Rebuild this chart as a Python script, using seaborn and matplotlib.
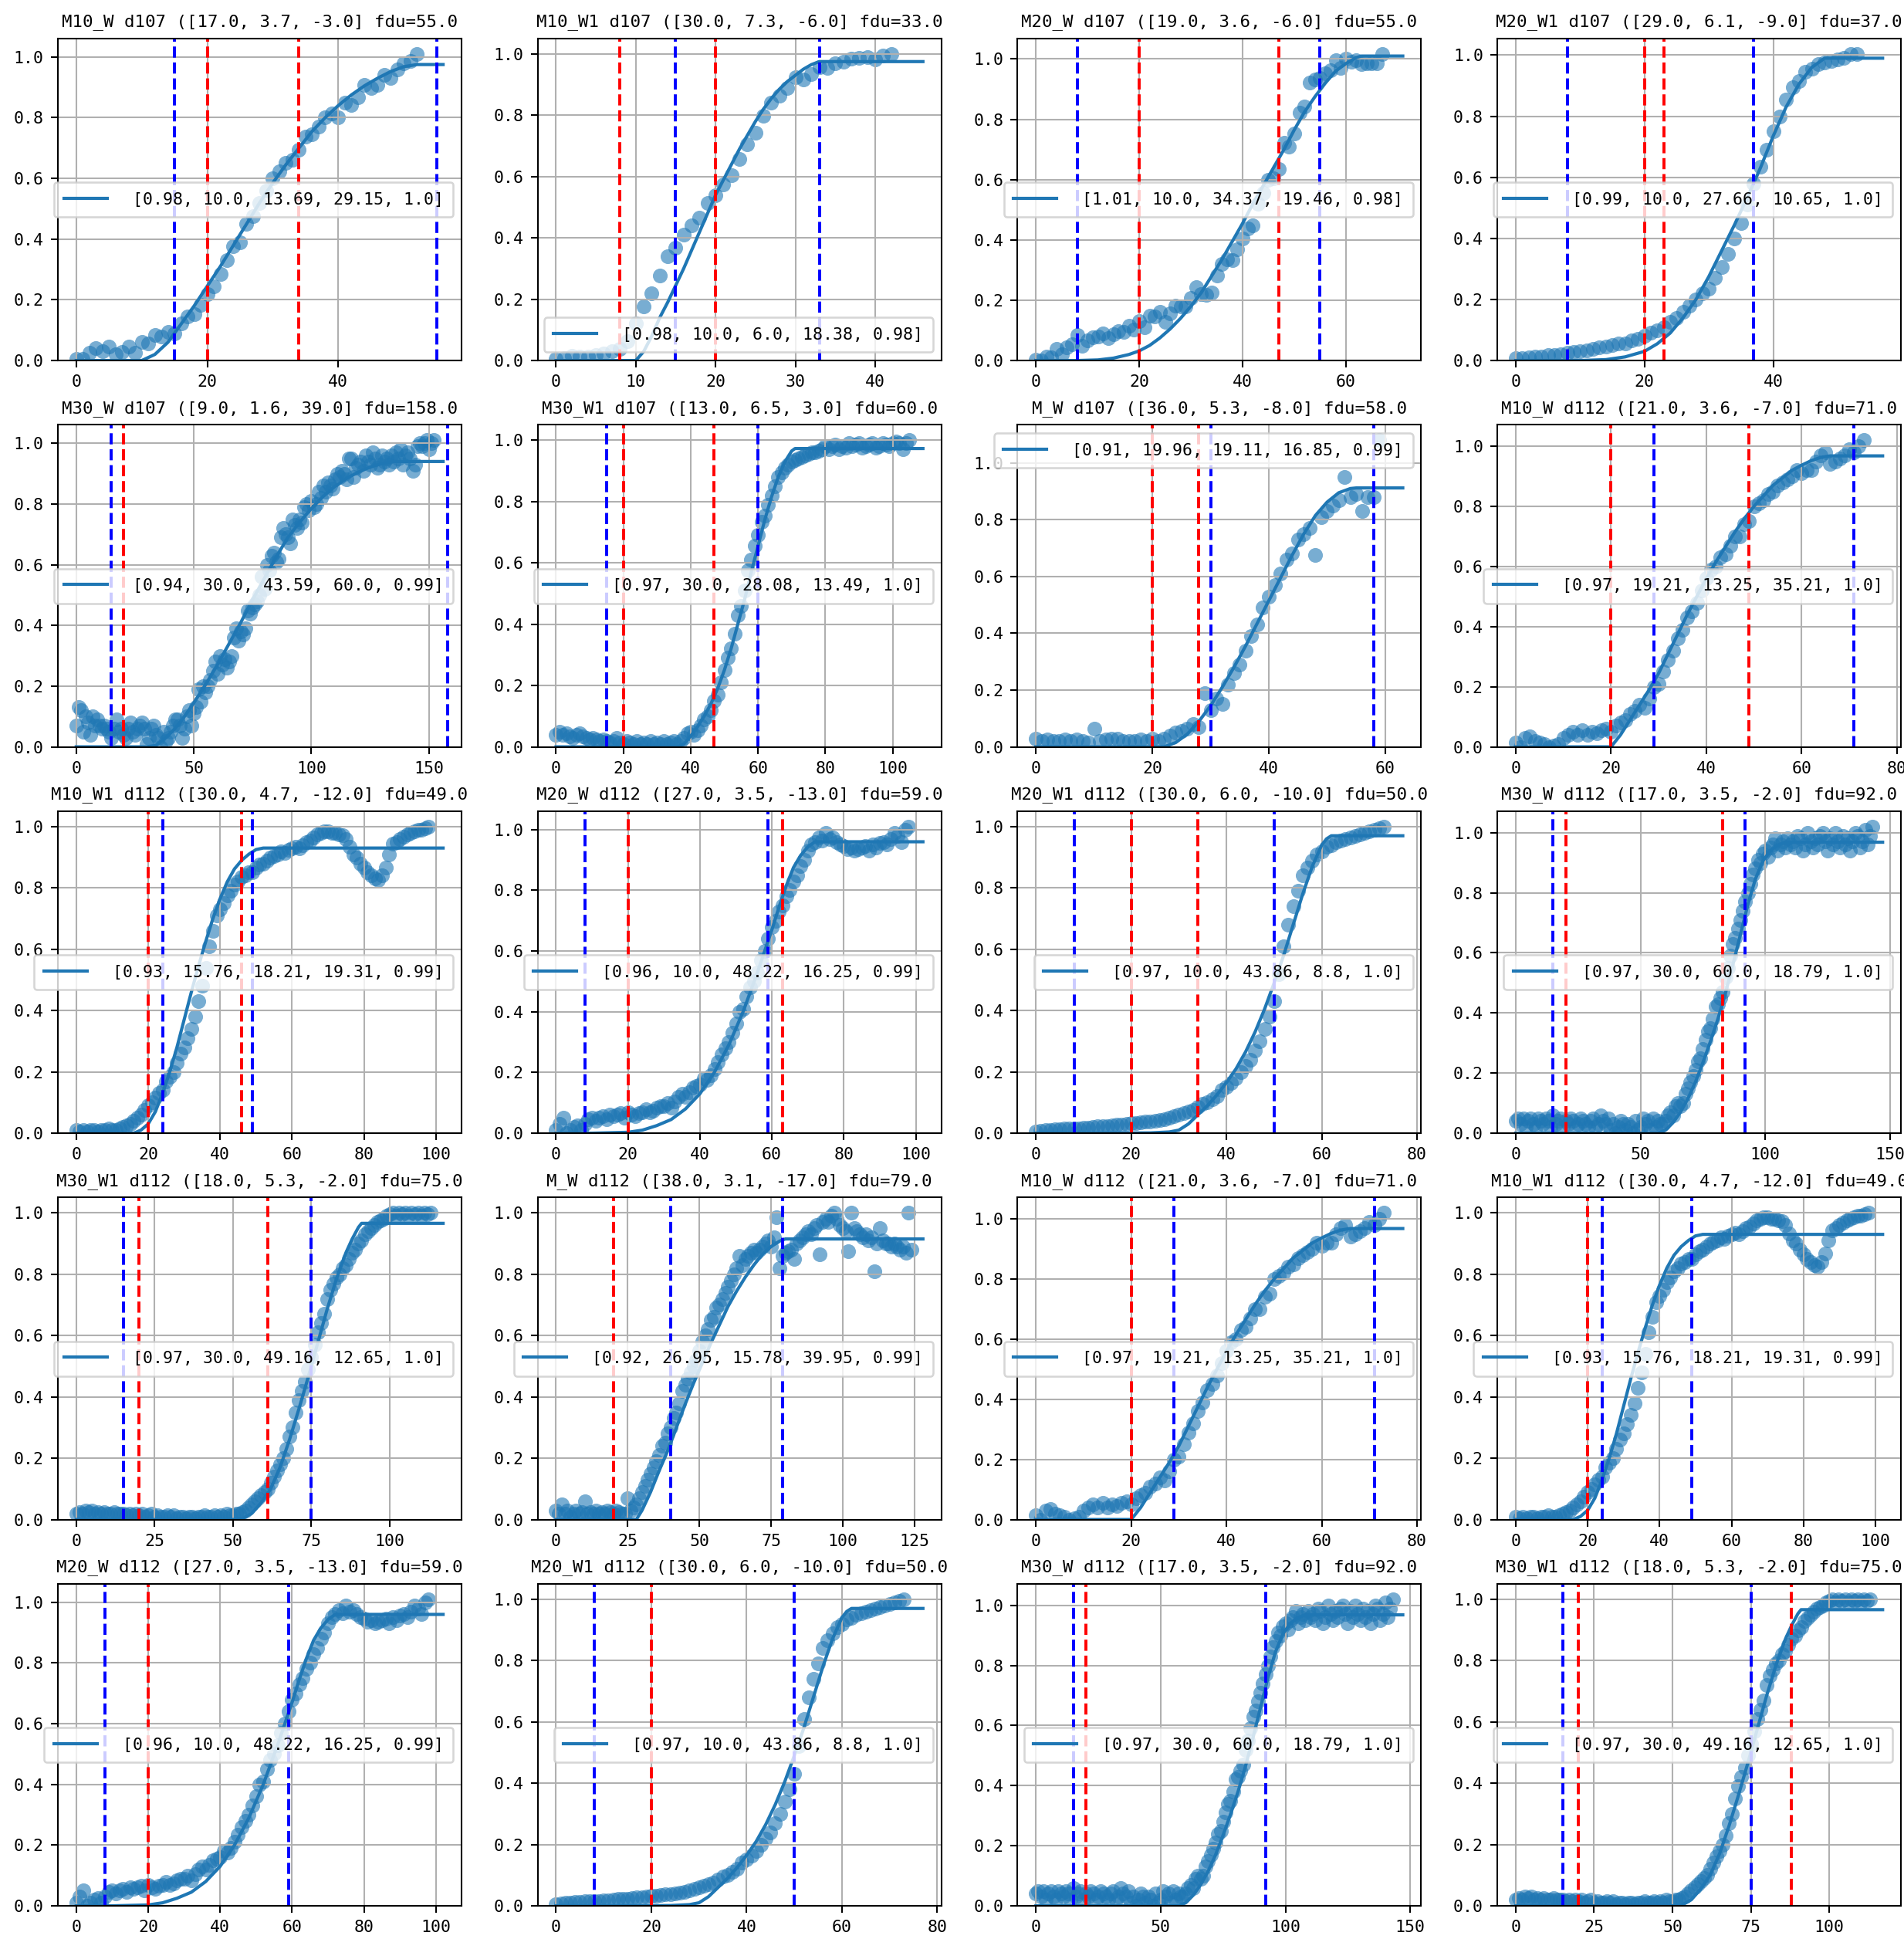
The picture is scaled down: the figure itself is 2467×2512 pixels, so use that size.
import numpy as np
import matplotlib
matplotlib.use('Agg')
import matplotlib.pyplot as plt
from matplotlib import font_manager
from matplotlib.ticker import MaxNLocator
import seaborn as sns

# ---- data (y per day index, fitted curve knots) ----
# M10_W d107
A_y = [0.005, 0.005, 0.025, 0.04, 0.03, 0.045, 0.02, 0.027, 0.047, 0.025,
       0.06, 0.055, 0.085, 0.08, 0.093, 0.09, 0.123, 0.144, 0.152, 0.182,
       0.22, 0.245, 0.284, 0.33, 0.377, 0.39, 0.45, 0.475, 0.52, 0.56,
       0.60, 0.623, 0.652, 0.66, 0.695, 0.737, 0.745, 0.77, 0.80, 0.815,
       0.80, 0.85, 0.843, 0.868, 0.907, 0.898, 0.907, 0.94, 0.93, 0.96,
       0.98, 0.987, 1.01]
A_fit_x = [0, 10, 12, 14, 16, 18, 20, 22, 24, 26, 28, 30, 32, 34, 36, 38, 40, 42, 44, 46, 48, 50, 52, 56]
A_fit_y = [0, 0, 0.02, 0.06, 0.12, 0.18, 0.245, 0.31, 0.38, 0.45, 0.52, 0.585, 0.645, 0.70,
           0.755, 0.80, 0.84, 0.875, 0.905, 0.93, 0.952, 0.968, 0.975, 0.975]
A_label = '[0.98, 10.0, 13.69, 29.15, 1.0]'

# M10_W1 d107
B_y = [0.004, 0.008, 0.015, 0.013, 0.013, 0.017, 0.024, 0.03, 0.038, 0.063,
       0.12, 0.176, 0.218, 0.277, 0.34, 0.368, 0.41, 0.44, 0.466, 0.513,
       0.538, 0.573, 0.605, 0.658, 0.706, 0.744, 0.797, 0.84, 0.864, 0.89,
       0.923, 0.916, 0.933, 0.956, 0.954, 0.97, 0.975, 0.985, 0.987, 0.99,
       0.983, 0.995, 1.0]
B_fit_x = [0, 10, 11, 12, 13, 14, 15, 16, 17, 18, 19, 20, 21, 22, 23, 24, 25, 26, 27, 28, 29, 30, 31, 32, 33, 46]
B_fit_y = [0, 0, 0.03, 0.08, 0.14, 0.19, 0.245, 0.30, 0.36, 0.42, 0.48, 0.54, 0.59, 0.64, 0.69,
           0.735, 0.78, 0.82, 0.855, 0.885, 0.91, 0.93, 0.95, 0.965, 0.975, 0.975]
B_label = '[0.98, 10.0, 6.0, 18.38, 0.98]'

# M20_W d107
C_y = [0.004, 0.0, 0.013, 0.01, 0.038, 0.02, 0.043, 0.055, 0.085, 0.05,
       0.068, 0.077, 0.08, 0.09, 0.075, 0.087, 0.098, 0.094, 0.115, 0.102,
       0.132, 0.11, 0.149, 0.146, 0.162, 0.128, 0.157, 0.183, 0.179, 0.179,
       0.208, 0.243, 0.221, 0.217, 0.225, 0.281, 0.319, 0.336, 0.332, 0.37,
       0.404, 0.438, 0.447, 0.519, 0.557, 0.6, 0.604, 0.634, 0.723, 0.71,
       0.753, 0.821, 0.843, 0.923, 0.932, 0.936, 0.953, 0.962, 0.996, 0.97,
       1.0, 0.991, 0.996, 0.983, 0.987, 0.987, 0.987, 1.017]
C_fit_x = [0, 8, 12, 15, 18, 20, 22, 24, 26, 28, 30, 32, 34, 36, 38, 40, 42, 44, 46, 48,
           50, 52, 54, 56, 58, 60, 62, 63, 71]
C_fit_y = [0, 0, 0.002, 0.008, 0.02, 0.032, 0.05, 0.075, 0.105, 0.14, 0.18, 0.225, 0.28, 0.335,
           0.395, 0.455, 0.52, 0.58, 0.64, 0.70, 0.765, 0.825, 0.875, 0.92, 0.96, 0.985, 1.005,
           1.01, 1.01]
C_label = '[1.01, 10.0, 34.37, 19.46, 0.98]'

# M20_W1 d107
D_y = [0.008, 0.007, 0.01, 0.013, 0.013, 0.017, 0.017, 0.021, 0.025, 0.027,
       0.03, 0.034, 0.038, 0.042, 0.046, 0.05, 0.057, 0.055, 0.067, 0.071,
       0.08, 0.09, 0.1, 0.11, 0.126, 0.14, 0.16, 0.18, 0.2, 0.22,
       0.235, 0.27, 0.305, 0.35, 0.40, 0.45, 0.51, 0.58, 0.635, 0.69,
       0.75, 0.80, 0.855, 0.895, 0.915, 0.945, 0.955, 0.97, 0.975, 0.98,
       0.987, 0.992, 1.004, 1.004]
D_fit_x = [0, 10, 14, 17, 20, 22, 24, 26, 28, 30, 32, 34, 36, 38, 40, 42, 44, 46, 48, 57]
D_fit_y = [0, 0, 0.003, 0.012, 0.03, 0.055, 0.09, 0.14, 0.2, 0.275, 0.36, 0.445, 0.535, 0.63,
           0.735, 0.83, 0.905, 0.96, 0.99, 0.99]
D_label = '[0.99, 10.0, 27.66, 10.65, 1.0]'

# M30_W d107
E_y = [0.07, 0.13, 0.12, 0.05, 0.10, 0.08, 0.04, 0.10, 0.07, 0.09, 0.07, 0.06, 0.07, 0.06, 0.05,
       0.03, 0.06, 0.09, 0.05, 0.06, 0.04, 0.03, 0.06, 0.08, 0.05, 0.04, 0.06, 0.07, 0.08, 0.06,
       0.01, 0.03, 0.06, 0.07, 0.04, 0.03, 0.00, 0.05, 0.02, 0.03, 0.05, 0.07, 0.09, 0.09, 0.07,
       0.03, 0.06, 0.10, 0.12, 0.07, 0.11, 0.13, 0.19, 0.15, 0.20, 0.18, 0.20, 0.22, 0.25, 0.28,
       0.24, 0.30, 0.27, 0.29, 0.26, 0.28, 0.30, 0.36, 0.39, 0.35, 0.38, 0.37, 0.39, 0.45, 0.44,
       0.46, 0.47, 0.48, 0.50, 0.56, 0.52, 0.60, 0.58, 0.63, 0.64, 0.61, 0.62, 0.69, 0.72, 0.70,
       0.69, 0.67, 0.75, 0.73, 0.72, 0.75, 0.74, 0.79, 0.80, 0.78, 0.81, 0.79, 0.80, 0.84, 0.82,
       0.86, 0.84, 0.87, 0.86, 0.85, 0.88, 0.90, 0.89, 0.91, 0.90, 0.88, 0.95, 0.95, 0.89, 0.92,
       0.93, 0.94, 0.91, 0.96, 0.94, 0.93, 0.97, 0.95, 0.92, 0.93, 0.96, 0.94, 0.95, 0.93, 0.96,
       0.94, 0.97, 0.95, 0.98, 0.93, 0.96, 0.97, 0.95, 0.91, 0.93, 0.99, 1.00, 0.99, 1.00, 1.01,
       0.98, 1.00, 1.01]
E_fit_x = [0, 30, 34, 38, 42, 46, 50, 55, 60, 65, 70, 75, 80, 85, 90, 95, 100, 105, 110, 115,
           120, 125, 130, 135, 156]
E_fit_y = [0, 0, 0.005, 0.03, 0.06, 0.1, 0.145, 0.205, 0.27, 0.34, 0.41, 0.485, 0.555, 0.625,
           0.69, 0.74, 0.785, 0.825, 0.858, 0.885, 0.905, 0.922, 0.933, 0.94, 0.94]
E_label = '[0.94, 30.0, 43.59, 60.0, 0.99]'

# M30_W1 d107
F_y = [0.04, 0.05, 0.04, 0.045, 0.035, 0.03, 0.04, 0.045, 0.035, 0.03, 0.025, 0.03, 0.025, 0.02, 0.025,
       0.02, 0.015, 0.02, 0.03, 0.015, 0.01, 0.02, 0.015, 0.01, 0.02, 0.01, 0.015, 0.01, 0.02, 0.01,
       0.015, 0.01, 0.02, 0.01, 0.015, 0.02, 0.01, 0.02, 0.03, 0.045, 0.05, 0.04, 0.055, 0.07, 0.09,
       0.10, 0.12, 0.15, 0.17, 0.21, 0.25, 0.29, 0.32, 0.37, 0.43, 0.46, 0.51, 0.575, 0.61, 0.655,
       0.69, 0.735, 0.755, 0.79, 0.82, 0.85, 0.88, 0.895, 0.91, 0.92, 0.93, 0.935, 0.94, 0.945, 0.95,
       0.955, 0.96, 0.96, 0.965, 0.97, 0.98, 0.97, 0.98, 0.985, 0.97, 0.98, 0.975, 0.99, 0.98, 0.985,
       0.99, 0.975, 0.98, 0.985, 0.99, 0.975, 0.98, 0.99, 0.985, 0.98, 0.99, 0.995, 0.99, 0.97, 0.99,
       1.0]
F_fit_x = [0, 36, 38, 40, 42, 44, 46, 48, 50, 52, 54, 56, 58, 60, 62, 64, 66, 68, 70, 71, 109]
F_fit_y = [0, 0, 0.01, 0.035, 0.065, 0.1, 0.14, 0.19, 0.25, 0.32, 0.4, 0.48, 0.57, 0.655, 0.74,
           0.815, 0.88, 0.93, 0.965, 0.973, 0.973]
F_label = '[0.97, 30.0, 28.08, 13.49, 1.0]'

# M_W d107
G_y = [0.03, 0.02, 0.025, 0.02, 0.02, 0.025, 0.02, 0.025, 0.02, 0.015,
       0.065, 0.02, 0.025, 0.03, 0.03, 0.02, 0.02, 0.02, 0.025, 0.02,
       0.03, 0.02, 0.03, 0.04, 0.05, 0.055, 0.065, 0.08, 0.07, 0.19,
       0.13, 0.17, 0.15, 0.22, 0.26, 0.29, 0.34, 0.39, 0.43, 0.49,
       0.53, 0.57, 0.61, 0.66, 0.68, 0.73, 0.75, 0.77, 0.675, 0.81,
       0.83, 0.85, 0.87, 0.95, 0.88, 0.89, 0.83, 0.88, 0.88, 1.08]
G_fit_x = [0, 22, 24, 26, 28, 30, 32, 34, 36, 38, 40, 42, 44, 46, 48, 50, 52, 54, 55, 63]
G_fit_y = [0, 0, 0.015, 0.045, 0.09, 0.145, 0.21, 0.28, 0.355, 0.435, 0.515, 0.595, 0.675, 0.75,
           0.815, 0.862, 0.895, 0.91, 0.912, 0.912]
G_label = '[0.91, 19.96, 19.11, 16.85, 0.99]'

# M10_W d112
H_y = [0.015, 0.0, 0.03, 0.035, 0.02, 0.015, 0.01, 0.0, 0.005, 0.01,
       0.03, 0.04, 0.05, 0.04, 0.055, 0.04, 0.05, 0.045, 0.055, 0.06,
       0.05, 0.07, 0.08, 0.09, 0.11, 0.12, 0.14, 0.13, 0.16, 0.2,
       0.21, 0.25, 0.29, 0.32, 0.36, 0.39, 0.43, 0.45, 0.48, 0.52,
       0.56, 0.59, 0.6, 0.63, 0.64, 0.67, 0.7, 0.7, 0.74, 0.75,
       0.8, 0.81, 0.82, 0.84, 0.85, 0.87, 0.88, 0.89, 0.9, 0.92,
       0.91, 0.92, 0.92, 0.95, 0.97, 0.98, 0.94, 0.95, 0.96, 0.97,
       0.99, 0.98, 1.0, 1.02]
H_fit_x = [0, 20, 22, 24, 26, 28, 30, 32, 34, 36, 38, 40, 42, 44, 46, 48, 50, 52, 54, 56, 58,
           60, 62, 64, 66, 77]
H_fit_y = [0, 0, 0.04, 0.09, 0.14, 0.19, 0.245, 0.31, 0.375, 0.44, 0.5, 0.56, 0.615, 0.665,
           0.715, 0.76, 0.8, 0.835, 0.87, 0.895, 0.92, 0.937, 0.952, 0.963, 0.968, 0.968]
H_label = '[0.97, 19.21, 13.25, 35.21, 1.0]'

# M10_W1 d112
I_y = [0.01, 0.005, 0.01, 0.005, 0.01, 0.01, 0.005, 0.01, 0.01, 0.015, 0.01, 0.01, 0.015, 0.02, 0.025,
       0.03, 0.04, 0.05, 0.06, 0.075, 0.09, 0.1, 0.115, 0.13, 0.14,
       0.17, 0.185, 0.2, 0.23, 0.26, 0.28, 0.31, 0.34, 0.38, 0.43, 0.48, 0.54, 0.61, 0.66, 0.71,
       0.73, 0.75, 0.775, 0.79, 0.81,
       0.82, 0.835, 0.84, 0.85, 0.85, 0.865, 0.876, 0.88, 0.89, 0.9, 0.905, 0.91, 0.92, 0.915, 0.925,
       0.93, 0.935, 0.93, 0.94, 0.95, 0.955, 0.965, 0.975, 0.98, 0.985, 0.985, 0.98, 0.98, 0.975, 0.972,
       0.96, 0.934, 0.91, 0.9, 0.88, 0.865, 0.85, 0.84, 0.83, 0.825, 0.84, 0.867, 0.91, 0.943, 0.95,
       0.96, 0.968, 0.975, 0.98, 0.985, 0.99, 0.99, 0.995, 1.0]
I_fit_x = [0, 16, 18, 20, 22, 24, 26, 28, 30, 32, 34, 36, 38, 40, 42, 44, 46, 48, 50, 52, 102]
I_fit_y = [0, 0, 0.01, 0.03, 0.07, 0.13, 0.2, 0.28, 0.37, 0.46, 0.545, 0.625, 0.70, 0.765, 0.82,
           0.862, 0.89, 0.91, 0.925, 0.93, 0.93]
I_label = '[0.93, 15.76, 18.21, 19.31, 0.99]'

# M20_W d112
J_y = [0.01, 0.03, 0.05, 0.0, 0.01, 0.02, 0.025, 0.01, 0.03, 0.045,
       0.05, 0.04, 0.05, 0.055, 0.045, 0.06, 0.055, 0.06, 0.065, 0.05,
       0.07, 0.06, 0.055, 0.065, 0.07, 0.08, 0.07, 0.075, 0.085, 0.09,
       0.09, 0.1, 0.085, 0.105, 0.12, 0.13, 0.12, 0.135, 0.15, 0.155,
       0.16, 0.18, 0.175, 0.19, 0.21, 0.235, 0.26, 0.28, 0.3, 0.33,
       0.36, 0.4, 0.41, 0.45, 0.48, 0.5, 0.53, 0.57, 0.6, 0.64,
       0.68, 0.7, 0.73, 0.75, 0.78, 0.8, 0.83, 0.85, 0.88, 0.9,
       0.93, 0.95, 0.96, 0.975, 0.965, 0.99, 0.97, 0.975, 0.96, 0.95,
       0.945, 0.935, 0.94, 0.93, 0.935, 0.94, 0.945, 0.93, 0.95, 0.94,
       0.955, 0.96, 0.95, 0.97, 0.99, 0.98, 0.96, 1.0, 1.01]
J_fit_x = [0, 10, 20, 24, 28, 32, 36, 40, 44, 48, 52, 56, 58, 60, 62, 64, 66, 68, 70, 72, 102]
J_fit_y = [0, 0, 0.003, 0.01, 0.025, 0.045, 0.08, 0.13, 0.2, 0.29, 0.4, 0.53, 0.6, 0.67, 0.745,
           0.815, 0.875, 0.915, 0.943, 0.96, 0.96]
J_label = '[0.96, 10.0, 48.22, 16.25, 0.99]'

# M20_W1 d112
K_y = [0.005, 0.008, 0.01, 0.01, 0.012, 0.012, 0.014, 0.015, 0.015, 0.016, 0.017, 0.018, 0.02, 0.022, 0.022,
       0.024, 0.025, 0.027, 0.028, 0.03, 0.032, 0.034, 0.035, 0.037, 0.038, 0.04, 0.042, 0.045, 0.05, 0.055,
       0.06, 0.065, 0.07, 0.075, 0.085, 0.095, 0.1, 0.11, 0.12, 0.14, 0.15, 0.165, 0.18, 0.2, 0.22,
       0.24, 0.27, 0.3, 0.34, 0.38, 0.43, 0.52, 0.61, 0.68, 0.74, 0.79, 0.84, 0.865, 0.89, 0.91,
       0.92, 0.935, 0.94, 0.95, 0.955, 0.96, 0.965, 0.97, 0.975, 0.98, 0.985, 0.99, 0.995, 1.0]
K_fit_x = [0, 10, 24, 28, 30, 32, 34, 36, 38, 40, 42, 44, 46, 48, 50, 52, 54, 56, 58, 60, 61, 62, 77]
K_fit_y = [0, 0, 0.001, 0.004, 0.01, 0.03, 0.06, 0.09, 0.125, 0.165, 0.21, 0.265, 0.33, 0.405,
           0.49, 0.58, 0.68, 0.78, 0.87, 0.94, 0.96, 0.97, 0.97]
K_label = '[0.97, 10.0, 43.86, 8.8, 1.0]'

# M30_W d112
L_y = [0.04, 0.05, 0.03, 0.05, 0.02, 0.04, 0.05, 0.03, 0.02, 0.05, 0.04, 0.03, 0.05, 0.04, 0.02,
       0.06, 0.03, 0.04, 0.05, 0.02, 0.04, 0.03, 0.05, 0.04, 0.02, 0.03, 0.05, 0.04, 0.03, 0.02,
       0.04, 0.05, 0.02, 0.03, 0.06, 0.04, 0.03, 0.05, 0.01, 0.03, 0.0, 0.02, 0.04, 0.03, 0.01,
       0.03, 0.02, 0.0, 0.04, 0.01, 0.02, 0.05, 0.03, 0.04, 0.01, 0.05, 0.02, 0.04, 0.03, 0.03,
       0.04, 0.06, 0.07, 0.06, 0.09, 0.1, 0.09, 0.1, 0.13, 0.15, 0.17, 0.19, 0.21, 0.24, 0.25,
       0.28, 0.31, 0.34, 0.35, 0.38, 0.42, 0.43, 0.45, 0.47, 0.52, 0.55, 0.59, 0.63, 0.65, 0.68,
       0.71, 0.74, 0.77, 0.8, 0.83, 0.86, 0.88, 0.91, 0.9, 0.93, 0.94, 0.92, 0.95, 0.96, 0.98,
       0.94, 0.96, 0.97, 0.95, 0.98, 0.96, 0.97, 0.95, 0.99, 0.98, 0.94, 0.96, 1.0, 0.97, 0.95,
       0.98, 0.96, 0.99, 1.0, 0.97, 0.94, 0.98, 0.96, 1.0, 0.97, 0.95, 0.99, 0.96, 0.98, 0.94,
       0.97, 1.0, 0.99, 0.95, 0.97, 1.01, 0.96, 0.99, 1.02]
L_fit_x = [0, 57, 60, 63, 66, 69, 72, 75, 78, 81, 84, 87, 90, 93, 96, 99, 102, 105, 108, 147]
L_fit_y = [0, 0, 0.01, 0.035, 0.07, 0.115, 0.17, 0.235, 0.305, 0.38, 0.465, 0.56, 0.66, 0.76,
           0.845, 0.905, 0.94, 0.958, 0.968, 0.968]
L_label = '[0.97, 30.0, 60.0, 18.79, 1.0]'

# M30_W1 d112
M_y = [0.02, 0.025, 0.02, 0.03, 0.025, 0.03, 0.02, 0.025, 0.02, 0.025, 0.02, 0.02, 0.025, 0.02, 0.02,
       0.02, 0.015, 0.02, 0.015, 0.02, 0.015, 0.02, 0.01, 0.015, 0.02, 0.01, 0.015, 0.01, 0.01, 0.015,
       0.01, 0.015, 0.005, 0.01, 0.01, 0.005, 0.01, 0.01, 0.005, 0.01, 0.01, 0.015, 0.01, 0.01, 0.015,
       0.01, 0.015, 0.01, 0.02, 0.015, 0.015, 0.02, 0.02, 0.025, 0.03, 0.04, 0.05, 0.06, 0.07, 0.08,
       0.09, 0.1, 0.12, 0.14, 0.16, 0.18, 0.2, 0.23, 0.27, 0.3, 0.35, 0.39, 0.42, 0.45, 0.49,
       0.53, 0.57, 0.61, 0.64, 0.67, 0.72, 0.75, 0.77, 0.79, 0.8, 0.82, 0.83, 0.85, 0.87, 0.88,
       0.9, 0.91, 0.93, 0.94, 0.95, 0.96, 0.97, 0.975, 0.98, 0.99, 0.995, 1.0, 0.99, 1.0, 0.995,
       1.0, 0.99, 1.0, 0.995, 1.0, 0.99, 1.0, 0.995, 1.0]
M_fit_x = [0, 50, 53, 56, 59, 62, 65, 68, 71, 74, 77, 80, 83, 86, 88, 90, 91, 117]
M_fit_y = [0, 0, 0.003, 0.02, 0.055, 0.1, 0.17, 0.26, 0.36, 0.465, 0.575, 0.685, 0.785, 0.87,
           0.915, 0.953, 0.966, 0.966]
M_label = '[0.97, 30.0, 49.16, 12.65, 1.0]'

# M_W d112
N_y = [0.03, 0.02, 0.05, 0.02, 0.03, 0.01, 0.02, 0.03, 0.02, 0.025, 0.06, 0.02, 0.025, 0.02, 0.03,
       0.02, 0.025, 0.02, 0.03, 0.025, 0.02, 0.03, 0.025, 0.02, 0.02, 0.07, 0.03, 0.04, 0.05, 0.07,
       0.09, 0.11, 0.13, 0.15, 0.17, 0.19, 0.21, 0.24, 0.25, 0.28, 0.3, 0.33, 0.35, 0.38, 0.42,
       0.44, 0.46, 0.48, 0.5, 0.52, 0.55, 0.58, 0.6, 0.62, 0.65, 0.66, 0.69, 0.7, 0.72, 0.74,
       0.76, 0.78, 0.8, 0.82, 0.86, 0.83, 0.85, 0.86, 0.87, 0.88, 0.87, 0.88, 0.89, 0.9, 0.91,
       0.89, 0.92, 0.985, 0.82, 0.86, 0.87, 0.875, 0.88, 0.85, 0.9, 0.91, 0.92, 0.93, 0.94, 0.93,
       0.95, 0.96, 0.866, 0.97, 0.98, 0.97, 0.99, 1.0, 0.98, 0.96, 0.95, 0.94, 0.875, 1.0, 0.95,
       0.94, 0.93, 0.92, 0.93, 0.91, 0.92, 0.81, 0.9, 0.95, 0.91, 0.9, 0.9, 0.89, 0.9, 0.89,
       0.88, 0.89, 0.87, 1.0, 0.88]
N_fit_x = [0, 28, 30, 33, 36, 39, 42, 45, 48, 51, 54, 57, 60, 63, 66, 69, 72, 75, 78, 80, 128]
N_fit_y = [0, 0, 0.03, 0.09, 0.16, 0.225, 0.3, 0.375, 0.445, 0.51, 0.575, 0.635, 0.695, 0.745,
           0.79, 0.83, 0.865, 0.89, 0.908, 0.915, 0.915]
N_label = '[0.92, 26.95, 15.78, 39.95, 0.99]'

series = {
    'A': (A_y, A_fit_x, A_fit_y, A_label), 'B': (B_y, B_fit_x, B_fit_y, B_label),
    'C': (C_y, C_fit_x, C_fit_y, C_label), 'D': (D_y, D_fit_x, D_fit_y, D_label),
    'E': (E_y, E_fit_x, E_fit_y, E_label), 'F': (F_y, F_fit_x, F_fit_y, F_label),
    'G': (G_y, G_fit_x, G_fit_y, G_label), 'H': (H_y, H_fit_x, H_fit_y, H_label),
    'I': (I_y, I_fit_x, I_fit_y, I_label), 'J': (J_y, J_fit_x, J_fit_y, J_label),
    'K': (K_y, K_fit_x, K_fit_y, K_label), 'L': (L_y, L_fit_x, L_fit_y, L_label),
    'M': (M_y, M_fit_x, M_fit_y, M_label), 'N': (N_y, N_fit_x, N_fit_y, N_label),
}

panel_series = ['A', 'B', 'C', 'D', 'E', 'F', 'G', 'H', 'I', 'J',
                'K', 'L', 'M', 'N', 'H', 'I', 'J', 'K', 'L', 'M']
titles_by_series = {
    'A': 'M10_W d107 ([17.0, 3.7, -3.0] fdu=55.0',
    'B': 'M10_W1 d107 ([30.0, 7.3, -6.0] fdu=33.0',
    'C': 'M20_W d107 ([19.0, 3.6, -6.0] fdu=55.0',
    'D': 'M20_W1 d107 ([29.0, 6.1, -9.0] fdu=37.0',
    'E': 'M30_W d107 ([9.0, 1.6, 39.0] fdu=158.0',
    'F': 'M30_W1 d107 ([13.0, 6.5, 3.0] fdu=60.0',
    'G': 'M_W d107 ([36.0, 5.3, -8.0] fdu=58.0',
    'H': 'M10_W d112 ([21.0, 3.6, -7.0] fdu=71.0',
    'I': 'M10_W1 d112 ([30.0, 4.7, -12.0] fdu=49.0',
    'J': 'M20_W d112 ([27.0, 3.5, -13.0] fdu=59.0',
    'K': 'M20_W1 d112 ([30.0, 6.0, -10.0] fdu=50.0',
    'L': 'M30_W d112 ([17.0, 3.5, -2.0] fdu=92.0',
    'M': 'M30_W1 d112 ([18.0, 5.3, -2.0] fdu=75.0',
    'N': 'M_W d112 ([38.0, 3.1, -17.0] fdu=79.0',
}
panel_blue = [[15, 55], [15, 33], [8, 55], [8, 37], [15, 158], [15, 60], [30, 58], [29, 71],
              [24, 49], [8, 59], [8, 50], [15, 92], [15, 75], [40, 79], [29, 71], [24, 49],
              [8, 59], [8, 50], [15, 92], [15, 75]]
panel_red = [[20, 34], [8, 20], [20, 47], [20, 23], [20], [20, 47], [20, 28], [20, 49],
             [20, 46], [20, 63], [20, 34], [20, 83], [20, 61], [20], [20], [20],
             [20], [20], [20], [20, 88]]
legend_locs = ['right', 'lower right', 'right', 'right', 'right', 'right', 'upper right',
               'right', 'right', 'right', 'right', 'right', 'right', 'right',
               'right', 'right', 'right', 'right', 'right', 'right']

# ---- style ----
DPI = 187
installed = {f.name for f in font_manager.fontManager.ttflist}
if 'Noto Sans Mono CJK SC' in installed:
    mono, fs = 'Noto Sans Mono CJK SC', 10.0
else:
    mono, fs = 'DejaVu Sans Mono', 8.3
plt.rcParams['font.family'] = [mono, 'DejaVu Sans']
plt.rcParams['font.size'] = fs
plt.rcParams['axes.unicode_minus'] = False
em = fs * DPI / 72  # font size in pixels

fig, axes = plt.subplots(5, 4, figsize=(2467 / DPI, 2512 / DPI), dpi=DPI)
fig.subplots_adjust(left=0.0304, right=0.9984, top=0.9801, bottom=0.0171,
                    wspace=0.189, hspace=0.200)

for i, ax in enumerate(axes.flat):
    key = panel_series[i]
    y, fit_x, fit_y, label = series[key]
    x = np.arange(len(y))

    sns.scatterplot(x=x, y=y, ax=ax, color='#1f77b4', alpha=0.6, s=54, linewidth=0)
    sns.lineplot(x=fit_x, y=fit_y, ax=ax, color='#1f77b4', linewidth=1.6, label=' ' + label)
    ax.set_ylim(bottom=0)

    for v in panel_blue[i]:
        ax.axvline(v, color='blue', linestyle='--', linewidth=1.5)
    for v in panel_red[i]:
        ax.axvline(v, color='red', linestyle='--', linewidth=1.5)

    ax.xaxis.set_major_locator(MaxNLocator(nbins=6, steps=[1, 2, 2.5, 5, 10]))
    ax.grid(True)
    ax.set_title(titles_by_series[key], fontsize=fs * 1.04)
    ax.legend(loc=legend_locs[i], handlelength=56 / em, handletextpad=20 / em,
              borderpad=12.5 / em)

fig.savefig('out.png', dpi=DPI)
plt.close('all')
